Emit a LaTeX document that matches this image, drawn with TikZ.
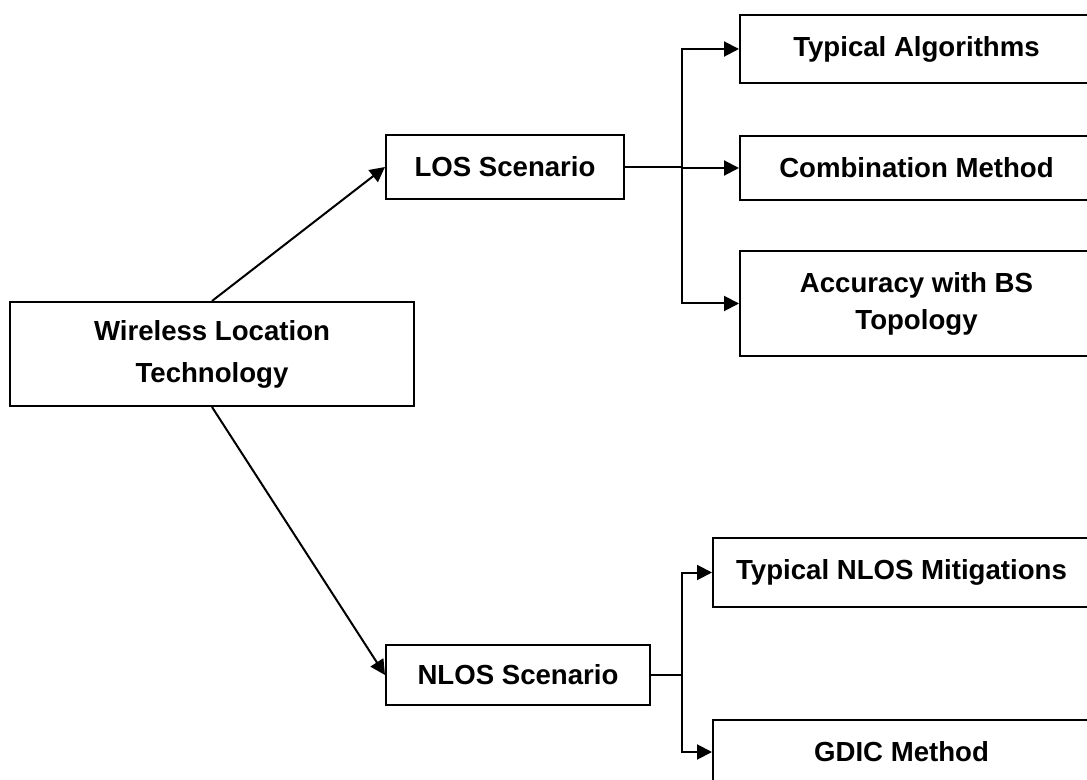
\documentclass[tikz,border=0pt]{standalone}
\usepackage{fontspec}
\setmainfont{Liberation Sans}
\usetikzlibrary{arrows.meta}

\begin{document}
\begin{tikzpicture}
  [
    x = 0.5pt, y = -0.5pt,  % one unit per pixel, y grows downwards
    line width = 1pt,
    every node/.style = {draw, rectangle, align = center, inner sep = 0pt,
      font = \bfseries\fontsize{13.8pt}{18.5pt}\selectfont},
    arr/.style = {-{Triangle[length=7.5pt, width=7.5pt]}}
  ]
  \clip (0,0) rectangle (1087,780);
  \node [minimum width=202pt, minimum height=52pt] (Tech) at (212,354)
    {Wireless Location\\[2.5pt]Technology};
  \node [minimum width=119pt, minimum height=32pt] (LOS)  at (505,167) {LOS Scenario};
  \node [minimum width=132pt, minimum height=30pt] (NLOS) at (518,675) {NLOS Scenario};
  % LOS branch
  \node [minimum width=176.5pt, minimum height=34pt]   (A1) at (916.5,49)    {Typical Algorithms};
  \node [minimum width=176.5pt, minimum height=32pt]   (A2) at (916.5,168)   {Combination Method};
  \node [minimum width=176.5pt, minimum height=52.5pt] (A3) at (916.5,303.5) {Accuracy with BS\\Topology};
  % NLOS branch
  \node [minimum width=188.5pt, minimum height=34.5pt] (B1) at (901.5,572.5) {Typical NLOS Mitigations};
  \node [minimum width=188.5pt, minimum height=32pt]   (B2) at (901.5,752)   {GDIC Method};
  \coordinate (LOSfork)  at (682,167);
  \coordinate (NLOSfork) at (682,675);
  \draw [arr] (Tech.north) -- (LOS.west);
  \draw [arr] (Tech.south) -- (NLOS.west);
  \draw (LOS.east) -- (LOSfork);
  \draw [arr] (LOSfork) |- (A1.west);
  \draw [arr] (LOSfork) |- (A2.west);
  \draw [arr] (LOSfork) |- (A3.west);
  \draw (NLOS.east) -- (NLOSfork);
  \draw [arr] (NLOSfork) |- (B1.west);
  \draw [arr] (NLOSfork) |- (B2.west);
\end{tikzpicture}
\end{document}
